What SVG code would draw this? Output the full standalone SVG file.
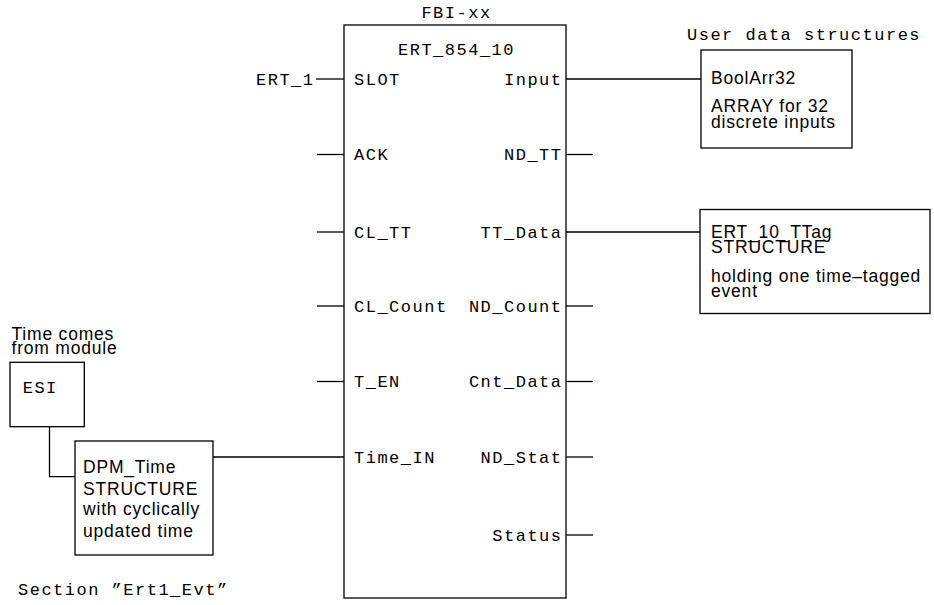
<svg xmlns="http://www.w3.org/2000/svg" width="934" height="605" viewBox="0 0 934 605">
<style>
.mono{font-family:"Liberation Mono","Courier New",monospace;font-size:17px;letter-spacing:1.5px;fill:#000}
.sans{font-family:"Liberation Sans",Arial,Helvetica,sans-serif;font-size:17.5px;letter-spacing:0.8px;fill:#000}
.end{text-anchor:end}
.mid{text-anchor:middle}
.box{fill:#fff;stroke:#000;stroke-width:1.3}
.wire{fill:none;stroke:#000;stroke-width:1.3}
</style>
<rect width="934" height="605" fill="#fff"/>
<g id="connectors">
<line class="wire" x1="316" y1="79" x2="344" y2="79"/>
<line class="wire" x1="317" y1="154.5" x2="344" y2="154.5"/>
<line class="wire" x1="317" y1="232" x2="344" y2="232"/>
<line class="wire" x1="317" y1="306" x2="344" y2="306"/>
<line class="wire" x1="317" y1="381.5" x2="344" y2="381.5"/>
<line class="wire" x1="213" y1="457" x2="344" y2="457"/>
<line class="wire" x1="566" y1="79" x2="701" y2="79"/>
<line class="wire" x1="566" y1="154.5" x2="593" y2="154.5"/>
<line class="wire" x1="566" y1="232" x2="700" y2="232"/>
<line class="wire" x1="566" y1="306" x2="593" y2="306"/>
<line class="wire" x1="566" y1="381.5" x2="593" y2="381.5"/>
<line class="wire" x1="566" y1="457" x2="593" y2="457"/>
<line class="wire" x1="566" y1="535" x2="593" y2="535"/>
<polyline class="wire" points="49.5,426.7 49.5,476.7 75,476.7"/>
</g>
<g id="fbi">
<text class="mono mid" x="456.5" y="18">FBI-xx</text>
<rect class="box" x="344" y="25" width="222" height="573"/>
<text class="mono mid" x="456.5" y="55">ERT_854_10</text>
<text class="mono" x="354" y="84.5">SLOT</text>
<text class="mono" x="354" y="160">ACK</text>
<text class="mono" x="354" y="237.5">CL_TT</text>
<text class="mono" x="354" y="311.5">CL_Count</text>
<text class="mono" x="354" y="387">T_EN</text>
<text class="mono" x="354" y="462.5">Time_IN</text>
<text class="mono end" x="562.5" y="84.5">Input</text>
<text class="mono end" x="562.5" y="160">ND_TT</text>
<text class="mono end" x="562.5" y="237.5">TT_Data</text>
<text class="mono end" x="562.5" y="311.5">ND_Count</text>
<text class="mono end" x="562.5" y="387">Cnt_Data</text>
<text class="mono end" x="562.5" y="462.5">ND_Stat</text>
<text class="mono end" x="562.5" y="540.5">Status</text>
</g>
<g id="ert1">
<text class="mono end" x="314.5" y="84.5">ERT_1</text>
</g>
<g id="boolarr">
<text class="mono" x="687" y="40">User data structures</text>
<rect class="box" x="701" y="50" width="151" height="98"/>
<text class="sans" x="711" y="83.5">BoolArr32</text>
<text class="sans" x="711" y="112">ARRAY for 32</text>
<text class="sans" x="711" y="127.5">discrete inputs</text>
</g>
<g id="ttag">
<rect class="box" x="700" y="209.5" width="230" height="104"/>
<text class="sans" x="711" y="238.3">ERT_10_TTag</text>
<text class="sans" x="711" y="253.3">STRUCTURE</text>
<text class="sans" x="711" y="281.7">holding one time–tagged</text>
<text class="sans" x="711" y="296.7">event</text>
</g>
<g id="esi">
<text class="sans" x="11.5" y="339.5">Time comes</text>
<text class="sans" x="11.5" y="354">from module</text>
<rect class="box" x="10" y="362.3" width="74.3" height="64.4"/>
<text class="mono" x="22.7" y="392.5">ESI</text>
</g>
<g id="dpm">
<rect class="box" x="75" y="441" width="138" height="114"/>
<text class="sans" x="83" y="473.3">DPM_Time</text>
<text class="sans" x="83" y="495">STRUCTURE</text>
<text class="sans" x="83" y="514.5">with cyclically</text>
<text class="sans" x="83" y="537">updated time</text>
</g>
<g id="section">
<text class="mono" x="18" y="595">Section ”Ert1_Evt”</text>
</g>
</svg>
